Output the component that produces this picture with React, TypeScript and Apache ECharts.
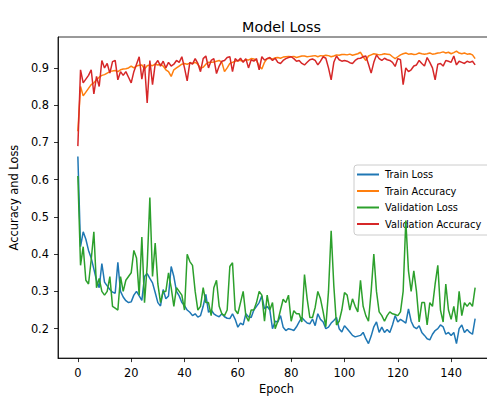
import React, { useEffect, useRef } from "react";
import * as echarts from "echarts";

const seriesNames = ["Train Loss", "Train Accuracy", "Validation Loss", "Validation Accuracy"];
const seriesColors = ["#1f77b4", "#ff7f0e", "#2ca02c", "#d62728"];

const xTicks = [0, 20, 40, 60, 80, 100, 120, 140];
const yTicks = [0.2, 0.3, 0.4, 0.5, 0.6, 0.7, 0.8, 0.9];

const trainLoss = [
  0.662, 0.42, 0.46, 0.44, 0.41, 0.39, 0.36, 0.33, 0.31, 0.375,
  0.325, 0.315, 0.305, 0.298, 0.295, 0.378, 0.30, 0.285, 0.275, 0.27,
  0.272, 0.29, 0.30, 0.288, 0.276, 0.34, 0.348, 0.335, 0.323, 0.297,
  0.27, 0.261, 0.305, 0.28, 0.288, 0.367, 0.34, 0.30, 0.288, 0.27,
  0.262, 0.25, 0.244, 0.235, 0.24, 0.231, 0.235, 0.26, 0.292, 0.244,
  0.25, 0.24, 0.235, 0.232, 0.24, 0.232, 0.228, 0.227, 0.24, 0.225,
  0.204, 0.215, 0.21, 0.24, 0.232, 0.23, 0.25, 0.26, 0.27, 0.288,
  0.253, 0.26, 0.25, 0.20, 0.22, 0.218, 0.235, 0.204, 0.195, 0.20,
  0.198, 0.195, 0.205, 0.218, 0.23, 0.222, 0.215, 0.213, 0.226, 0.208,
  0.24, 0.225, 0.218, 0.20, 0.204, 0.215, 0.222, 0.23, 0.20, 0.191,
  0.208, 0.20, 0.191, 0.182, 0.178, 0.18, 0.182, 0.19, 0.173, 0.16,
  0.18, 0.205, 0.218, 0.19, 0.204, 0.19, 0.198, 0.19, 0.21, 0.235,
  0.218, 0.225, 0.22, 0.215, 0.253, 0.22, 0.205, 0.20, 0.208, 0.19,
  0.182, 0.173, 0.17, 0.185, 0.195, 0.20, 0.21, 0.205, 0.185, 0.19,
  0.182, 0.19, 0.16, 0.20, 0.21, 0.19, 0.198, 0.19, 0.185, 0.227,
];

const trainAccuracy = [
  0.73, 0.85, 0.825, 0.835, 0.845, 0.855, 0.86, 0.868, 0.875, 0.88,
  0.882, 0.886, 0.89, 0.892, 0.893, 0.89, 0.895, 0.897, 0.898, 0.90,
  0.905, 0.90, 0.905, 0.907, 0.908, 0.897, 0.906, 0.908, 0.906, 0.91,
  0.908, 0.91, 0.905, 0.895, 0.89, 0.877, 0.895, 0.90, 0.905, 0.91,
  0.912, 0.91, 0.913, 0.912, 0.915, 0.91, 0.90, 0.902, 0.91, 0.915,
  0.915, 0.916, 0.918, 0.92, 0.915, 0.89, 0.90, 0.912, 0.915, 0.918,
  0.92, 0.92, 0.918, 0.922, 0.921, 0.925, 0.924, 0.92, 0.905, 0.897,
  0.915, 0.925, 0.926, 0.924, 0.927, 0.928, 0.926, 0.929, 0.93, 0.931,
  0.93, 0.931, 0.928, 0.93, 0.932, 0.932, 0.93, 0.931, 0.932, 0.933,
  0.93, 0.933, 0.932, 0.934, 0.933, 0.93, 0.932, 0.935, 0.934, 0.936,
  0.936, 0.935, 0.937, 0.934, 0.936, 0.938, 0.942, 0.93, 0.92, 0.932,
  0.935, 0.938, 0.937, 0.935, 0.936, 0.938, 0.937, 0.936, 0.93, 0.925,
  0.93, 0.935, 0.938, 0.94, 0.937, 0.938, 0.936, 0.937, 0.94, 0.938,
  0.937, 0.938, 0.94, 0.937, 0.938, 0.94, 0.941, 0.943, 0.94, 0.942,
  0.938, 0.941, 0.945, 0.94, 0.938, 0.94, 0.937, 0.938, 0.935, 0.925,
];

const validationLoss = [
  0.61, 0.37, 0.42, 0.33, 0.32, 0.385, 0.46, 0.31, 0.335, 0.30,
  0.29, 0.30, 0.34, 0.26, 0.255, 0.25, 0.34, 0.30, 0.33, 0.34,
  0.35, 0.41, 0.39, 0.29, 0.446, 0.27, 0.37, 0.552, 0.34, 0.43,
  0.32, 0.27, 0.30, 0.30, 0.35, 0.31, 0.26, 0.31, 0.30, 0.29,
  0.25, 0.40, 0.38, 0.37, 0.30, 0.25, 0.26, 0.31, 0.27, 0.27,
  0.235, 0.31, 0.33, 0.26, 0.24, 0.235, 0.25, 0.367, 0.377, 0.25,
  0.24, 0.27, 0.30, 0.235, 0.22, 0.25, 0.25, 0.27, 0.30, 0.29,
  0.22, 0.29, 0.25, 0.27, 0.20, 0.22, 0.25, 0.279, 0.27, 0.29,
  0.22, 0.248, 0.24, 0.24, 0.218, 0.345, 0.28, 0.23, 0.23, 0.257,
  0.30, 0.28, 0.245, 0.205, 0.30, 0.463, 0.315, 0.21, 0.22, 0.25,
  0.297, 0.29, 0.25, 0.28, 0.26, 0.245, 0.33, 0.26, 0.235, 0.22,
  0.30, 0.40, 0.30, 0.245, 0.235, 0.22, 0.235, 0.245, 0.24, 0.238,
  0.235, 0.245, 0.30, 0.49, 0.355, 0.30, 0.355, 0.30, 0.218, 0.27,
  0.27, 0.21, 0.27, 0.26, 0.32, 0.37, 0.25, 0.218, 0.32, 0.25,
  0.225, 0.26, 0.218, 0.30, 0.235, 0.27, 0.26, 0.27, 0.26, 0.31,
];

const validationAccuracy = [
  0.69, 0.895, 0.86, 0.87, 0.88, 0.895, 0.83, 0.877, 0.85, 0.92,
  0.90, 0.912, 0.886, 0.917, 0.92, 0.868, 0.89, 0.88, 0.89, 0.875,
  0.86, 0.89, 0.91, 0.93, 0.87, 0.91, 0.806, 0.92, 0.855, 0.91,
  0.92, 0.905, 0.918, 0.90, 0.915, 0.905, 0.91, 0.92, 0.915, 0.93,
  0.90, 0.865, 0.915, 0.91, 0.925, 0.912, 0.89, 0.925, 0.932, 0.90,
  0.92, 0.925, 0.885, 0.905, 0.918, 0.92, 0.928, 0.93, 0.89, 0.925,
  0.918, 0.926, 0.915, 0.925, 0.90, 0.922, 0.918, 0.925, 0.895, 0.93,
  0.921, 0.925, 0.928, 0.92, 0.926, 0.915, 0.912, 0.92, 0.925, 0.928,
  0.93, 0.925, 0.918, 0.92, 0.912, 0.908, 0.915, 0.922, 0.924, 0.92,
  0.908, 0.918, 0.93, 0.926, 0.90, 0.868, 0.915, 0.932, 0.922, 0.918,
  0.92, 0.918, 0.914, 0.912, 0.92, 0.925, 0.926, 0.93, 0.932, 0.91,
  0.886, 0.915, 0.935, 0.925, 0.92, 0.926, 0.922, 0.92, 0.915, 0.904,
  0.925, 0.922, 0.855, 0.90, 0.89, 0.895, 0.905, 0.908, 0.92, 0.912,
  0.905, 0.928, 0.915, 0.90, 0.868, 0.91, 0.912, 0.905, 0.92, 0.918,
  0.915, 0.932, 0.908, 0.918, 0.915, 0.912, 0.918, 0.915, 0.918, 0.908,
];

const allSeries = [trainLoss, trainAccuracy, validationLoss, validationAccuracy];

export default function App() {
  const ref = useRef<HTMLDivElement>(null);

  useEffect(() => {
    if (!ref.current) return;
    const chart = echarts.init(ref.current, null, { renderer: "svg" });
    const font = "DejaVu Sans";
    const axisColor = "#000000";

    chart.setOption({
      animation: false,
      backgroundColor: "#ffffff",
      textStyle: { fontFamily: font },
      title: {
        text: "Model Loss",
        left: 276.5,
        top: 15,
        textAlign: "center",
        textStyle: { fontFamily: font, fontSize: 14.3, fontWeight: "normal", color: "#000000" },
      },
      grid: {
        left: 58,
        top: 37,
        width: 437,
        height: 326,
        show: true,
        borderColor: axisColor,
        borderWidth: 0.8,
        backgroundColor: "transparent",
      },
      legend: {
        data: seriesNames,
        orient: "vertical",
        left: 354,
        top: 165,
        icon: "rect",
        itemWidth: 22,
        itemHeight: 2,
        itemGap: 4.5,
        padding: [3.5, 20, 5, 3],
        textStyle: { fontFamily: font, fontSize: 9.8, color: "#000000", lineHeight: 12, padding: [0, 0, 0, 1] },
        backgroundColor: "rgba(255,255,255,0.8)",
        borderColor: "#cccccc",
        borderWidth: 1,
        borderRadius: 3,
      },
      xAxis: {
        type: "value",
        min: -7.45,
        max: 156.45,
        name: "Epoch",
        nameLocation: "middle",
        nameGap: 24,
        nameTextStyle: { fontFamily: font, fontSize: 11.4, color: "#000000" },
        axisLine: { show: true, onZero: false, lineStyle: { color: axisColor, width: 0.8 } },
        axisTick: { show: true, length: 4, inside: false, customValues: xTicks, lineStyle: { color: axisColor, width: 0.8 } },
        axisLabel: { customValues: xTicks, margin: 9, fontFamily: font, fontSize: 11.4, color: "#000000" },
        splitLine: { show: false },
      },
      yAxis: {
        type: "value",
        min: 0.121,
        max: 0.983,
        name: "Accuracy and Loss",
        nameLocation: "middle",
        nameGap: 34,
        nameRotate: 90,
        nameTextStyle: { fontFamily: font, fontSize: 11.4, color: "#000000" },
        axisLine: { show: true, onZero: false, lineStyle: { color: axisColor, width: 0.8 } },
        axisTick: { show: true, length: 4, inside: false, customValues: yTicks, lineStyle: { color: axisColor, width: 0.8 } },
        axisLabel: {
          customValues: yTicks,
          margin: 9,
          fontFamily: font,
          fontSize: 11.4,
          color: "#000000",
          formatter: (v: number) => v.toFixed(1),
        },
        splitLine: { show: false },
      },
      series: allSeries.map((arr, idx) => ({
        name: seriesNames[idx],
        type: "line",
        data: arr.map((v, i) => [i, v]),
        showSymbol: false,
        symbol: "none",
        color: seriesColors[idx],
        lineStyle: { color: seriesColors[idx], width: 1.5 },
        z: 2 + idx,
        silent: true,
      })),
    });

    return () => chart.dispose();
  }, []);

  return (
    <div
      style={{
        position: "fixed",
        left: 0,
        top: 0,
        width: 487,
        height: 399,
        overflow: "hidden",
        background: "#ffffff",
      }}
    >
      <div ref={ref} style={{ width: 520, height: 399 }} />
    </div>
  );
}
